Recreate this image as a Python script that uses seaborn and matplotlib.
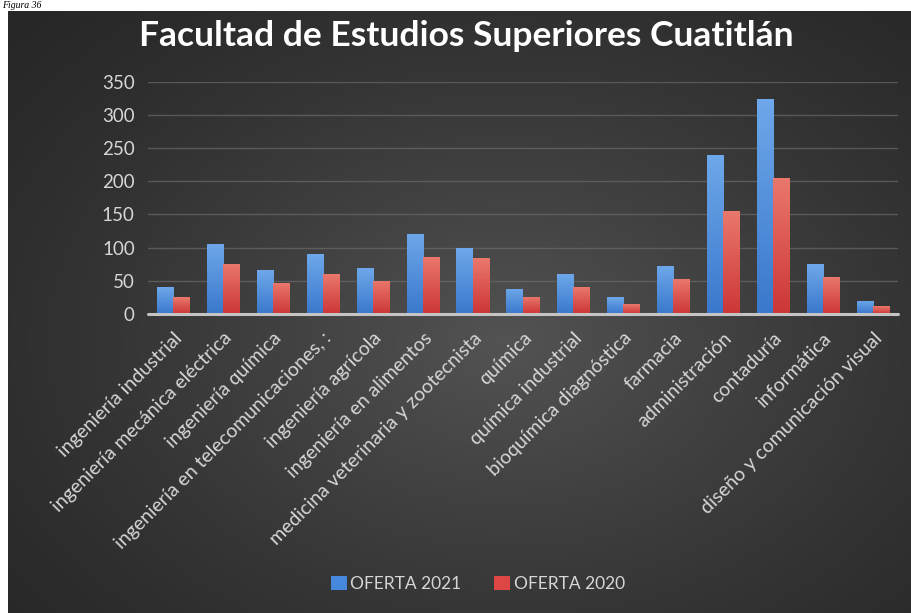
import numpy as np
import pandas as pd
import matplotlib
matplotlib.use("Agg")
import matplotlib.pyplot as plt
from matplotlib.patches import Patch
import seaborn as sns

carreras = [
    "ingeniería industrial",
    "ingeniería mecánica eléctrica",
    "ingeniería química",
    "ingeniería en telecomunicaciones, :",
    "ingeniería agrícola",
    "ingeniería en alimentos",
    "medicina veterinaria y zootecnista",
    "química",
    "química industrial",
    "bioquímica diagnóstica",
    "farmacia",
    "administración",
    "contaduría",
    "informática",
    "diseño y comunicación visual",
]
oferta_2021 = [40, 106, 66, 90, 69, 121, 99, 38, 60, 25, 73, 240, 324, 75, 20]
oferta_2020 = [25, 76, 46, 60, 50, 86, 84, 26, 40, 15, 52, 155, 205, 55, 12]
series = ["OFERTA 2021", "OFERTA 2020"]
y_ticks = [0, 50, 100, 150, 200, 250, 300, 350]
titulo = "Facultad de Estudios Superiores Cuatitlán"

colores = {"OFERTA 2021": "#4689dc", "OFERTA 2020": "#de4646"}
claros = {"OFERTA 2021": "#6ea8ea", "OFERTA 2020": "#ea786c"}
oscuros = {"OFERTA 2021": "#3a78cc", "OFERTA 2020": "#cc3636"}

df = pd.DataFrame({
    "carrera": carreras * 2,
    "oferta": oferta_2021 + oferta_2020,
    "serie": [series[0]] * len(carreras) + [series[1]] * len(carreras),
})

sns.set_theme(style="dark")
plt.rcParams["font.family"] = ["Lato", "DejaVu Sans"]

W, H = 912, 613
fig = plt.figure(figsize=(W / 100, H / 100), dpi=100, facecolor="white")

def px(x0, y0, x1, y1):
    return [x0 / W, 1 - y1 / H, (x1 - x0) / W, (y1 - y0) / H]

# dark panel with a soft radial glow
bg = fig.add_axes(px(8, 11, 912, 613))
bg.set_axis_off()
yy, xx = np.mgrid[0:1:300j, 0:1:450j]
r = np.sqrt(((xx - 0.55) / 0.75) ** 2 + ((yy - 0.55) / 0.8) ** 2)
t = np.clip(1 - r, 0, 1) ** 1.3
edge = np.array([0x27, 0x27, 0x27]) / 255
centre = np.array([0x53, 0x53, 0x53]) / 255
img = edge + (centre - edge) * t[..., None]
bg.imshow(img, extent=[0, 1, 0, 1], aspect="auto", origin="upper")
bg.set_xlim(0, 1)
bg.set_ylim(0, 1)

# caption in the white strip above the panel
fig.text(2 / W, 1 - 8.5 / H, "Figura 36", family="Liberation Serif", style="italic",
         fontsize=7, color="black", ha="left", va="baseline")

ax = fig.add_axes(px(148, 81.7, 898, 314))
ax.patch.set_alpha(0)
sns.barplot(data=df, x="carrera", y="oferta", hue="serie", hue_order=series,
            palette=colores, width=0.66, saturation=1, legend=False, ax=ax,
            errorbar=None)

# vertical shading inside each bar
grad = np.linspace(1, 0, 64)[:, None]
for patch in ax.patches:
    fc = patch.get_facecolor()
    key = series[0] if fc[2] > fc[0] else series[1]
    c_top = np.array(matplotlib.colors.to_rgb(claros[key]))
    c_bot = np.array(matplotlib.colors.to_rgb(oscuros[key]))
    g = c_bot + (c_top - c_bot) * grad[..., None]
    x0, y0 = patch.get_x(), patch.get_y()
    w, h = patch.get_width(), patch.get_height()
    im = ax.imshow(g, extent=[x0, x0 + w, y0, y0 + h], aspect="auto",
                   origin="upper", zorder=patch.get_zorder() + 0.1)
    im.set_clip_path(patch)
    patch.set_edgecolor("none")

ax.set_xlim(-0.5, len(carreras) - 0.5)
ax.set_ylim(0, 350)
ax.set_yticks(y_ticks)
ax.set_yticklabels([str(v) for v in y_ticks])
for v in y_ticks[1:]:
    ax.axhline(v, color="#6a6a6a", lw=1.0, alpha=0.7, zorder=0)
ax.axhline(0, color="#c4c4c4", lw=2.2, zorder=5, clip_on=False)
for s in ax.spines.values():
    s.set_visible(False)
ax.grid(False)
ax.set_xlabel("")
ax.set_ylabel("")
ax.tick_params(axis="y", length=0, pad=9.5, labelsize=13.5, labelcolor="#d6d6d6")
ax.tick_params(axis="x", length=0, pad=11, labelsize=14, labelcolor="#d6d6d6")
ax.set_xticks(range(len(carreras)))
ax.set_xticklabels(carreras, rotation=45, ha="right", rotation_mode="anchor")

fig.text(466 / W, 1 - 36 / H, titulo, color="white", fontsize=25.5,
         fontweight="bold", ha="center", va="center")

handles = [Patch(facecolor=colores[s], edgecolor="none", label=s) for s in series]
leg = fig.legend(handles=handles, loc="center", bbox_to_anchor=(478 / W, 1 - 584 / H),
                 ncol=2, frameon=False, handlelength=0.9, handleheight=0.9,
                 handletextpad=0.2, columnspacing=1.9, fontsize=12.5)
for txt in leg.get_texts():
    txt.set_color("#d6d6d6")

fig.savefig("out.png", dpi=100, facecolor="white")
